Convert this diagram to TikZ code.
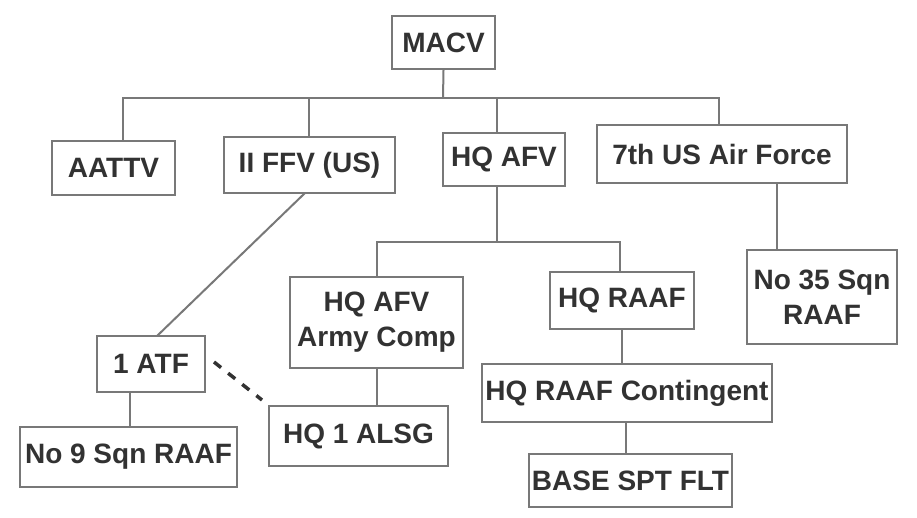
\documentclass[tikz,border=0pt]{standalone}
\usepackage{fontspec}
\setmainfont{Liberation Sans}
\begin{document}
\begin{tikzpicture}[x=1pt,y=-1pt,
  box/.style={draw=boxc, line width=2pt, fill=white, text=txtc, inner sep=0pt,
    font=\fontsize{28}{30}\selectfont\bfseries, align=center},
  link/.style={draw=boxc, line width=2pt}]
\definecolor{boxc}{RGB}{120,120,120}
\definecolor{txtc}{RGB}{50,50,50}
\fill[white] (0,0) rectangle (917,518);
\useasboundingbox (0,0) rectangle (917,518);
% nodes
\node[box, minimum width=103, minimum height=53] (macv) at (443.5,42.5) {MACV};
\node[box, minimum width=123, minimum height=54] (aattv) at (113.5,168) {AATTV};
\node[box, minimum width=171, minimum height=56] (iiffv) at (309.5,165) {II FFV (US)};
\node[box, minimum width=122, minimum height=53] (hqafv) at (504,159.5) {HQ AFV};
\node[box, minimum width=250, minimum height=58] (usaf) at (722,154) {7th US Air Force};
\node[box, minimum width=173, minimum height=91] (army) at (376.5,322.5) {HQ AFV\\[5pt]Army Comp};
\node[box, minimum width=144, minimum height=57] (hqraaf) at (622,300.5) {HQ RAAF};
\node[box, minimum width=290, minimum height=58] (cont) at (627,393) {HQ RAAF Contingent};
\node[box, minimum width=203, minimum height=53] (base) at (630.5,480.5) {BASE SPT FLT};
\node[box, minimum width=150, minimum height=94] (sqn35) at (822,297) {No 35 Sqn\\[5pt]RAAF};
\node[box, minimum width=108, minimum height=56] (atf) at (151,364) {1 ATF};
\node[box, minimum width=217, minimum height=60] (sqn9) at (128.5,457) {No 9 Sqn RAAF};
\node[box, minimum width=179, minimum height=60] (alsg) at (358.5,436) {HQ 1 ALSG};
% bar coordinates
\coordinate (t0) at (443,98);
\coordinate (t1) at (123,98);
\coordinate (t2) at (309,98);
\coordinate (t3) at (497,98);
\coordinate (t4) at (719,98);
\coordinate (m0) at (497,242);
\coordinate (m1) at (377,242);
\coordinate (m2) at (620,242);
\coordinate (d1) at (305,193);
\coordinate (d2) at (157,336);
% connectors
\draw[link] (macv.south) -- (t0);
\draw[link] (t1 |- aattv.north) -- (t1) -- (t4) -- (t4 |- usaf.north);
\draw[link] (t2) -- (t2 |- iiffv.north);
\draw[link] (t3) -- (t3 |- hqafv.north);
\draw[link] (m0 |- hqafv.south) -- (m0);
\draw[link] (m1 |- army.north) -- (m1) -- (m2) -- (m2 |- hqraaf.north);
\draw[link] (hqraaf.south) -- (hqraaf.south |- cont.north);
\draw[link] (626,0 |- cont.south) -- (626,0 |- base.north);
\draw[link] (777,0 |- usaf.south) -- (777,0 |- sqn35.north);
\draw[link] (d1) -- (d2);
\draw[link] (130,0 |- atf.south) -- (130,0 |- sqn9.north);
\draw[link] (377,0 |- army.south) -- (377,0 |- alsg.north);
\coordinate (e1) at (214,362);
\coordinate (e2) at (262,400);
\draw[draw=txtc, line width=3.5pt, dash pattern=on 9pt off 9pt] (e1) -- (e2);
\end{tikzpicture}
\end{document}
